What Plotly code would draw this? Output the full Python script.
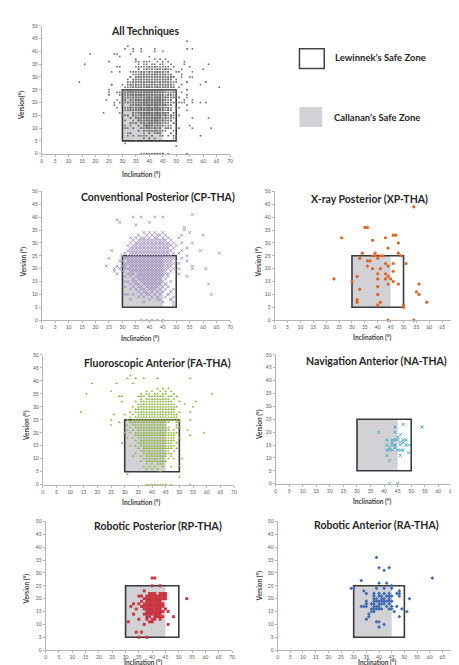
import plotly.graph_objects as go

# ---------------- data (inclination, version) ----------------
# Conventional Posterior: dense rows (version, [inclinations]) + scattered points
cp_rows = [
    (34, [38, 40, 42, 45]),
    (33, [36, 39, 41, 43, 44, 46]),
    (32, [33, 35, 37, 38, 40, 42, 43, 45, 47]),
    (31, [34, 36, 37, 38, 39, 40, 41, 42, 43, 44, 45, 46, 48]),
    (30, [33, 35, 36, 37, 38, 39, 40, 41, 42, 43, 44, 45, 46, 47, 49]),
    (29, [32, 34, 35, 36, 37, 38, 39, 40, 41, 42, 43, 44, 45, 46, 47, 48]),
    (28, [33, 34, 35, 36, 37, 38, 39, 40, 41, 42, 43, 44, 45, 46, 47, 49]),
    (27, [32, 33, 34, 35, 36, 37, 38, 39, 40, 41, 42, 43, 44, 45, 46, 47, 48]),
    (26, [31, 33, 34, 35, 36, 37, 38, 39, 40, 41, 42, 43, 44, 45, 46, 47, 49]),
    (25, [30, 32, 33, 34, 35, 36, 37, 38, 39, 40, 41, 42, 43, 44, 45, 46, 47, 48]),
    (24, [31, 32, 33, 34, 35, 36, 37, 38, 39, 40, 41, 42, 43, 44, 45, 46, 47, 48, 49]),
    (23, [30, 32, 33, 34, 35, 36, 37, 38, 39, 40, 41, 42, 43, 44, 45, 46, 47, 48]),
    (22, [31, 32, 33, 34, 35, 36, 37, 38, 39, 40, 41, 42, 43, 44, 45, 46, 47, 48, 49]),
    (21, [30, 31, 33, 34, 35, 36, 37, 38, 39, 40, 41, 42, 43, 44, 45, 46, 47, 48]),
    (20, [31, 32, 33, 34, 35, 36, 37, 38, 39, 40, 41, 42, 43, 44, 45, 46, 47, 49]),
    (19, [30, 33, 34, 35, 36, 37, 38, 39, 40, 41, 42, 43, 44, 45, 46, 48]),
    (18, [32, 33, 34, 36, 37, 38, 39, 40, 41, 42, 43, 44, 45, 46, 47]),
    (17, [31, 33, 35, 36, 37, 38, 39, 40, 41, 42, 43, 44, 45, 47]),
    (16, [34, 36, 37, 38, 39, 40, 41, 42, 43, 44, 46]),
    (15, [32, 34, 35, 37, 38, 39, 40, 41, 42, 43, 44, 45, 48]),
    (14, [33, 35, 36, 38, 39, 40, 41, 42, 43, 44, 46]),
    (13, [34, 36, 37, 39, 40, 41, 42, 43, 45, 47]),
    (12, [33, 35, 37, 38, 40, 41, 42, 44, 46]),
    (11, [36, 38, 39, 41, 43, 45, 48]),
    (10, [34, 37, 39, 40, 42, 44, 47]),
    (9, [36, 38, 41, 43, 46, 49]),
    (8, [33, 40, 43, 48]),
    (7, [38, 45, 49]),
]
cp_points = [
    (24, 21), (25, 24), (26, 27), (27, 19), (27, 20), (28, 21), (28, 18), (29, 20),
    (28, 39), (29, 38), (31, 15), (31, 10), (33, 8), (34, 40), (35, 37), (37, 40),
    (40, 38), (42, 40), (45, 40), (56, 41), (56, 30), (60, 33), (59, 27), (61, 20),
    (62, 14), (63, 10), (66, 26), (54, 23), (54, 25), (54, 28), (54, 17), (56, 20),
    (56, 21), (53, 36), (53, 35), (55, 34), (52, 30), (51, 32), (52, 33), (51, 18),
    (51, 20), (51, 22), (52, 24), (51, 26), (52, 27), (50, 29), (50, 23), (37, 0),
    (39, 0), (41, 0), (43, 0), (45, 0), (48, 8), (49, 6), (47, 10), (49, 12),
    (46, 14), (44, 8), (31, 13), (32, 10), (30, 21), (29, 23), (30, 25),
]

# X-ray Posterior
xp_points = [
    (54, 44), (23, 16), (26, 32), (35, 36), (36, 36), (38, 31), (43, 32), (46, 33),
    (47, 33), (44, 28), (48, 30), (33, 24), (34, 26), (36, 23), (37, 23), (38, 25),
    (39, 26), (39, 25), (40, 24), (41, 25), (42, 25), (36, 21), (38, 20), (40, 18),
    (40, 16), (41, 20), (43, 22), (44, 21), (43, 18), (43, 16), (44, 17), (45, 16),
    (46, 15), (46, 19), (46, 22), (48, 26), (49, 25), (48, 14), (32, 17), (30, 15),
    (33, 12), (32, 8), (32, 7), (40, 13), (40, 10), (40, 6), (41, 7), (44, 14),
    (50, 6), (50, 5), (51, 22), (55, 11), (56, 10), (56, 14), (59, 7), (54, 0), (44, 0),
]

# Fluoroscopic Anterior
fa_rows = [
    (37, [42, 44, 46]),
    (36, [38, 40, 43, 45, 47]),
    (35, [36, 38, 39, 41, 42, 44, 45, 48]),
    (34, [35, 36, 37, 39, 40, 41, 42, 43, 44, 46, 47, 49]),
    (33, [36, 38, 39, 40, 41, 42, 43, 44, 45, 46, 48]),
    (32, [34, 36, 37, 38, 39, 40, 41, 42, 43, 44, 45, 46, 47, 50]),
    (31, [35, 36, 37, 38, 39, 40, 41, 42, 43, 44, 45, 46, 47, 48]),
    (30, [33, 35, 36, 37, 38, 39, 40, 41, 42, 43, 44, 45, 46, 47, 48, 49]),
    (29, [34, 35, 36, 37, 38, 39, 40, 41, 42, 43, 44, 45, 46, 47, 48]),
    (28, [32, 34, 35, 36, 37, 38, 39, 40, 41, 42, 43, 44, 45, 46, 47, 48, 50]),
    (27, [33, 35, 36, 37, 38, 39, 40, 41, 42, 43, 44, 45, 46, 47, 48, 49]),
    (26, [32, 34, 35, 36, 37, 38, 39, 40, 41, 42, 43, 44, 45, 46, 47, 48, 49]),
    (25, [31, 33, 34, 35, 36, 37, 38, 39, 40, 41, 42, 43, 44, 45, 46, 47, 48, 49, 50]),
    (24, [32, 33, 34, 35, 36, 37, 38, 39, 40, 41, 42, 43, 44, 45, 46, 49, 50]),
    (23, [31, 33, 34, 35, 36, 37, 38, 39, 40, 41, 42, 43, 44, 45, 49]),
    (22, [32, 34, 35, 36, 37, 38, 39, 40, 41, 42, 43, 44, 45, 46, 49, 50]),
    (21, [33, 35, 36, 37, 38, 39, 40, 41, 42, 43, 44, 45, 46, 48]),
    (20, [32, 34, 35, 36, 37, 38, 39, 40, 41, 42, 43, 44, 45, 46, 47, 48, 49]),
    (19, [34, 35, 36, 37, 38, 39, 40, 41, 42, 43, 44, 45, 46, 47, 48]),
    (18, [33, 35, 36, 37, 38, 39, 40, 41, 42, 43, 44, 45, 46, 47, 48, 50]),
    (17, [34, 36, 37, 38, 39, 40, 41, 42, 43, 44, 45, 46, 47, 48]),
    (16, [35, 36, 37, 38, 39, 40, 41, 42, 43, 44, 45, 46, 47, 49]),
    (15, [34, 36, 37, 38, 39, 40, 41, 42, 43, 44, 45, 46, 47, 48]),
    (14, [35, 37, 38, 39, 40, 41, 42, 43, 44, 45, 46, 47, 49]),
    (13, [36, 37, 38, 39, 40, 41, 42, 43, 44, 45, 46, 48]),
    (12, [34, 37, 38, 39, 40, 41, 42, 43, 44, 45, 46, 47]),
    (11, [36, 38, 39, 40, 41, 42, 43, 44, 45, 47]),
    (10, [37, 38, 39, 40, 41, 42, 43, 44, 46, 48]),
    (9, [36, 38, 39, 40, 41, 42, 43, 44, 45]),
    (8, [38, 40, 42, 43, 44]),
    (7, [37, 39, 41, 44, 47]),
    (6, [38, 40, 42]),
    (5, [43]),
]
fa_points = [
    (14, 28), (16, 35), (18, 39), (25, 23), (25, 25), (25, 36), (26, 27), (27, 39),
    (28, 34), (28, 24), (29, 16), (29, 34), (29, 32), (30, 27), (31, 41), (32, 42),
    (33, 39), (31, 4), (34, 41), (37, 41), (42, 41), (54, 41), (62, 35), (59, 20),
    (55, 30), (56, 32), (54, 28), (54, 25), (53, 21), (54, 19), (51, 10), (50, 7),
    (50, 3), (38, 0), (39, 0), (40, 0), (41, 0), (42, 0), (43, 0), (44, 0), (45, 0),
    (47, 0), (54, 0), (31, 18), (32, 15), (33, 11), (31, 21), (30, 20), (52, 31),
]

# Navigation Anterior
na_points = [
    (38, 20), (44, 22), (44, 20), (45, 18), (46, 19), (47, 23), (54, 22), (41, 17),
    (41, 15), (41, 13), (42, 14), (42, 13), (43, 15), (43, 17), (43, 13), (44, 17),
    (44, 15), (45, 17), (45, 13), (46, 16), (46, 15), (46, 11), (46, 13), (47, 17),
    (47, 16), (47, 13), (48, 17), (48, 15), (49, 15), (49, 12), (42, 9), (41, 11),
    (42, 0), (45, 0), (44, 14), (43, 16),
]

# Robotic Posterior
rp_rows = [
    (22, [39, 40, 41, 43, 44]),
    (21, [36, 38, 39, 40, 41, 42, 43, 44]),
    (20, [37, 38, 39, 40, 41, 42, 43, 44, 45]),
    (19, [36, 38, 39, 40, 41, 42, 43]),
    (18, [35, 37, 38, 39, 40, 41, 42, 43, 44]),
    (17, [36, 37, 38, 39, 40, 41, 42, 43, 44]),
    (16, [37, 38, 39, 40, 41, 42, 43, 45]),
    (15, [38, 39, 40, 41, 42, 43, 44]),
    (14, [37, 38, 39, 40, 41, 42, 43]),
    (13, [38, 39, 41, 42, 43, 44]),
    (12, [38, 40, 41, 43]),
    (11, [39, 40]),
]
rp_points = [
    (40, 28), (41, 28), (43, 25), (40, 25), (53, 20), (31, 11), (34, 7), (36, 7),
    (35, 5), (38, 5), (37, 10), (46, 10), (48, 13), (46, 15), (45, 22), (45, 21),
    (32, 17), (33, 18), (34, 16), (33, 14), (35, 12), (35, 21), (37, 23),
]

# Robotic Anterior
ra_rows = [
    (22, [38, 40, 42, 44]),
    (21, [38, 40, 41, 43, 44, 45]),
    (20, [38, 39, 41, 42, 44]),
    (19, [38, 39, 40, 41, 42, 43, 44, 45]),
    (18, [37, 38, 40, 41, 42, 44]),
    (17, [38, 39, 40, 43, 45]),
    (16, [37, 38, 39, 40, 41, 44, 45]),
]
ra_points = [
    (39, 36), (40, 32), (42, 31), (44, 32), (61, 28), (33, 27), (29, 24), (30, 24),
    (40, 26), (43, 26), (45, 25), (45, 24), (39, 24), (42, 24), (34, 23), (35, 22),
    (48, 22), (47, 22), (48, 23), (52, 20), (48, 21), (47, 17), (51, 15), (46, 15),
    (49, 16), (48, 13), (33, 17), (34, 17), (35, 17), (35, 19), (35, 18), (37, 15),
    (36, 14), (36, 13), (35, 12), (39, 11), (40, 11), (40, 9), (42, 10), (38, 15),
]

x_ticks = [0, 5, 10, 15, 20, 25, 30, 35, 40, 45, 50, 55, 60, 65, 70]
y_ticks = [0, 5, 10, 15, 20, 25, 30, 35, 40, 45, 50]

lewinnek_incl = [30, 50]
lewinnek_vers = [5, 25]
callanan_incl = [30, 45]
callanan_vers = [5, 25]


def collect(rows, points):
    xs, ys = [], []
    for v, incs in rows:
        for i in incs:
            xs.append(i)
            ys.append(v)
    for i, v in points:
        xs.append(i)
        ys.append(v)
    return xs, ys


cp_x, cp_y = collect(cp_rows, cp_points)
xp_x, xp_y = collect([], xp_points)
fa_x, fa_y = collect(fa_rows, fa_points)
na_x, na_y = collect([], na_points)
rp_x, rp_y = collect(rp_rows, rp_points)
ra_x, ra_y = collect(ra_rows, ra_points)
all_x = cp_x + xp_x + fa_x + na_x + rp_x + ra_x
all_y = cp_y + xp_y + fa_y + na_y + rp_y + ra_y

# ---------------- layout ----------------
W, H = 459, 665
TXT = "#262626"
FONT = "Lato"

panels = [
    dict(title="All Techniques", x=all_x, y=all_y,
         marker=dict(symbol="square", size=1.6, color="#6a6a6a"),
         box=(33, 223, 15, 144), tpos=(137, 20), xt=(134, 165), yt=(12, 95), ytxt="Version(°)"),
    dict(title="Conventional Posterior (CP-THA)", x=cp_x, y=cp_y,
         marker=dict(symbol="x-thin-open", size=2.8, color="#a08fc2", line=dict(width=0.9, color="#a08fc2")),
         box=(33, 223, 182, 312), tpos=(150, 188), xt=(133, 330), yt=(15, 253), ytxt="Version (°)"),
    dict(title="X-ray Posterior (XP-THA)", x=xp_x, y=xp_y,
         marker=dict(symbol="circle", size=3.2, color="#e2631f"),
         box=(268, 450, 182, 312), tpos=(364, 190), xt=(367, 329), yt=(252, 253), ytxt="Version (°)"),
    dict(title="Fluoroscopic Anterior (FA-THA)", x=fa_x, y=fa_y,
         marker=dict(symbol="triangle-up", size=2.6, color="#8cb43f"),
         box=(34, 227, 347, 478), tpos=(150, 355), xt=(134, 496), yt=(17, 418), ytxt="Version (°)"),
    dict(title="Navigation Anterior (NA-THA)", x=na_x, y=na_y,
         marker=dict(symbol="x-thin-open", size=3.0, color="#4aabc9", line=dict(width=1, color="#4aabc9")),
         box=(269, 455, 347, 477), tpos=(371, 353), xt=(367, 495), yt=(252, 417), ytxt="Version (°)",
         xmax=68),
    dict(title="Robotic Posterior (RP-THA)", x=rp_x, y=rp_y,
         marker=dict(symbol="square", size=2.9, color="#c8333f"),
         box=(37, 225, 515, 645), tpos=(150, 520), xt=(136, 657), yt=(18, 583), ytxt="Version (°)"),
    dict(title="Robotic Anterior (RA-THA)", x=ra_x, y=ra_y,
         marker=dict(symbol="diamond", size=2.9, color="#3d6bb1"),
         box=(271, 450, 515, 645), tpos=(371, 519), xt=(372, 657), yt=(253, 580), ytxt="Version (°)"),
]

fig = go.Figure()
shapes = []
annotations = []
layout_axes = {}

for k, p in enumerate(panels, start=1):
    xa = "x" if k == 1 else f"x{k}"
    ya = "y" if k == 1 else f"y{k}"
    l, r, t, b = p["box"]
    xmax = p.get("xmax", 70)
    fig.add_trace(go.Scatter(
        x=p["x"], y=p["y"], mode="markers", marker=p["marker"],
        xaxis=xa, yaxis=ya, showlegend=False, cliponaxis=False, hoverinfo="x+y",
    ))
    common = dict(showline=True, linecolor="#b5b5b5", linewidth=1, ticks="outside",
                  ticklen=2, tickcolor="#b5b5b5", showgrid=False, zeroline=False,
                  tickfont=dict(size=5, color="#555555", family=FONT), fixedrange=True)
    layout_axes["xaxis" if k == 1 else f"xaxis{k}"] = dict(
        common, domain=[l / W, r / W], range=[0, xmax], tickvals=x_ticks,
        anchor=ya)
    layout_axes["yaxis" if k == 1 else f"yaxis{k}"] = dict(
        common, domain=[1 - b / H, 1 - t / H], range=[0, 50], tickvals=y_ticks,
        anchor=xa)
    shapes.append(dict(type="rect", xref=xa, yref=ya,
                       x0=callanan_incl[0], x1=callanan_incl[1],
                       y0=callanan_vers[0], y1=callanan_vers[1],
                       fillcolor="#d2d2d6", line=dict(width=0), layer="below"))
    shapes.append(dict(type="rect", xref=xa, yref=ya,
                       x0=lewinnek_incl[0], x1=lewinnek_incl[1],
                       y0=lewinnek_vers[0], y1=lewinnek_vers[1],
                       fillcolor="rgba(0,0,0,0)", line=dict(width=1.6, color="#3a3a3a"),
                       layer="below"))
    annotations.append(dict(text="<b>%s</b>" % p["title"], xref="paper", yref="paper",
                            x=p["tpos"][0] / W, y=1 - p["tpos"][1] / H, showarrow=False,
                            xanchor="center", yanchor="middle",
                            font=dict(size=10.5, color=TXT, family=FONT)))
    annotations.append(dict(text="<b>Inclination (°)</b>", xref="paper", yref="paper",
                            x=p["xt"][0] / W, y=1 - p["xt"][1] / H, showarrow=False,
                            xanchor="center", yanchor="middle",
                            font=dict(size=6.5, color="#404040", family=FONT)))
    annotations.append(dict(text="<b>%s</b>" % p["ytxt"], xref="paper", yref="paper",
                            x=p["yt"][0] / W, y=1 - p["yt"][1] / H, showarrow=False,
                            xanchor="center", yanchor="middle", textangle=-90,
                            font=dict(size=6.5, color="#404040", family=FONT)))

# legend boxes
shapes.append(dict(type="rect", xref="paper", yref="paper",
                   x0=293 / W, x1=318 / W, y0=1 - 58 / H, y1=1 - 38 / H,
                   fillcolor="white", line=dict(width=1.5, color="#444444")))
shapes.append(dict(type="rect", xref="paper", yref="paper",
                   x0=293 / W, x1=316 / W, y0=1 - 117 / H, y1=1 - 97 / H,
                   fillcolor="#d2d2d6", line=dict(width=0)))
annotations.append(dict(text="<b>Lewinnek’s Safe Zone</b>", xref="paper", yref="paper",
                        x=327 / W, y=1 - 47 / H, xanchor="left", yanchor="middle",
                        showarrow=False, font=dict(size=9.5, color=TXT, family=FONT)))
annotations.append(dict(text="<b>Callanan’s Safe Zone</b>", xref="paper", yref="paper",
                        x=326 / W, y=1 - 107 / H, xanchor="left", yanchor="middle",
                        showarrow=False, font=dict(size=9.5, color=TXT, family=FONT)))

fig.update_layout(
    width=W, height=H, margin=dict(l=0, r=0, t=0, b=0),
    paper_bgcolor="white", plot_bgcolor="white",
    font=dict(family=FONT, color=TXT),
    shapes=shapes, annotations=annotations, **layout_axes,
)

fig.write_html("out.html", config={"displayModeBar": False})
